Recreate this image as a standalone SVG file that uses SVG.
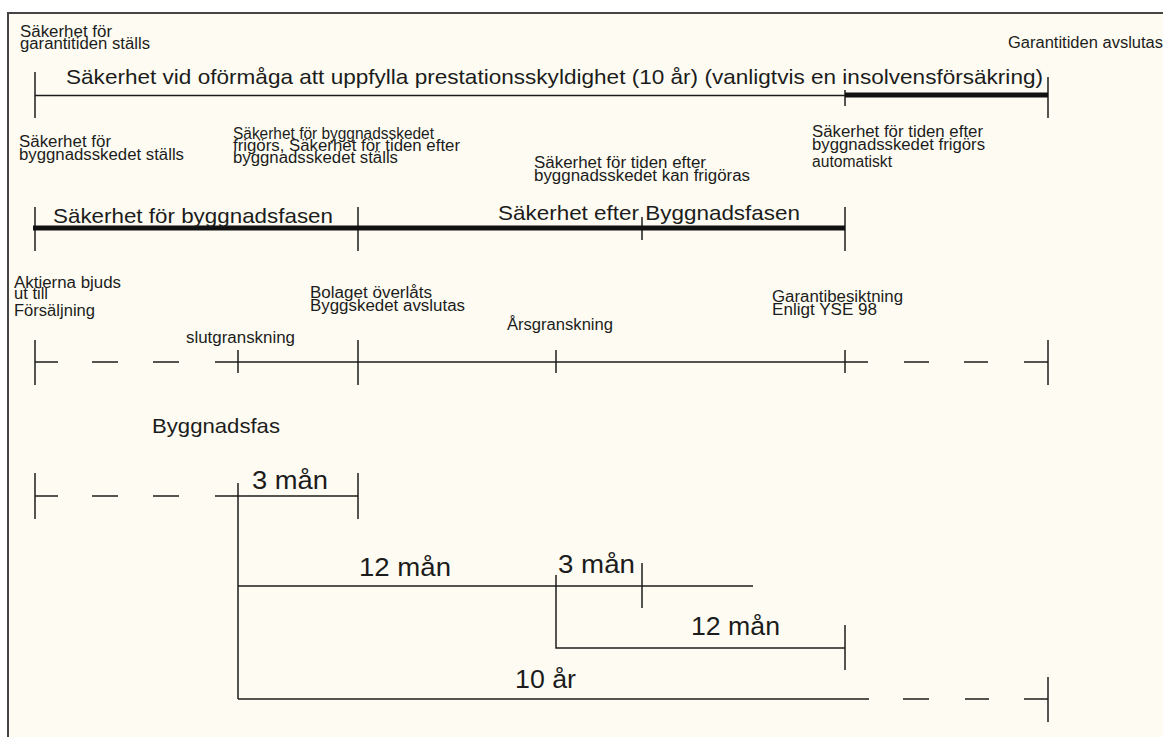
<svg xmlns="http://www.w3.org/2000/svg" width="1163" height="737" viewBox="0 0 1163 737">
<style>
.t{font-family:"Liberation Sans",Arial,sans-serif;fill:#1c1c1c}
.s{font-size:16px}
.m{font-size:21px}
.l{font-size:26px}
.ln{stroke:#1c1c1c;stroke-width:1.5;fill:none}
.th{stroke:#111;stroke-width:5;fill:none}
</style>
<rect x="0" y="0" width="1163" height="737" fill="#ffffff"/>
<rect id="frame" x="8" y="13" width="1160" height="730" fill="#fefcf2" stroke="#444" stroke-width="2"/>

<g id="connectors">
  <path class="ln" d="M35 72V118 M35 95.5H845 M845 90V106 M1048 77V118"/>
  <path class="th" d="M845 95H1048"/>
  <path class="ln" d="M35 207V251 M358 207V251 M845 207V251 M642 217V240"/>
  <path class="th" d="M33 228H845"/>
  <path class="ln" d="M35 340V385 M35 362H58 M92 362H118 M153 362H179 M215 362H868 M904 362H929 M964 362H988 M1024 362H1048 M1048 340V385 M238 350V373 M358 340V385 M556 350V373 M845 350V373"/>
  <path class="ln" d="M35 473V519 M35 496H58 M92 496H118 M153 496H179 M215 496H358 M358 473V519 M238 483V699"/>
  <path class="ln" d="M238 586H753 M642 563V608 M556 575V648H845 M845 625V670"/>
  <path class="ln" d="M238 699H869 M903 699H929 M965 699H989 M1024 699H1048 M1048 677V722"/>
</g>

<g id="n-garanti-start">
  <text class="t s" x="20" y="37" textLength="92" lengthAdjust="spacingAndGlyphs">Säkerhet för</text>
  <text class="t s" x="20" y="49" textLength="130" lengthAdjust="spacingAndGlyphs">garantitiden ställs</text>
</g>
<g id="n-garanti-slut">
  <text class="t s" x="1008" y="48" textLength="155" lengthAdjust="spacingAndGlyphs">Garantitiden avslutas</text>
</g>
<g id="n-insolvens">
  <text class="t m" x="66" y="84" textLength="977" lengthAdjust="spacingAndGlyphs">Säkerhet vid oförmåga att uppfylla prestationsskyldighet (10 år) (vanligtvis en insolvensförsäkring)</text>
</g>

<g id="n-bygg-stalls">
  <text class="t s" x="19" y="147" textLength="92" lengthAdjust="spacingAndGlyphs">Säkerhet för</text>
  <text class="t s" x="19" y="160" textLength="165" lengthAdjust="spacingAndGlyphs">byggnadsskedet ställs</text>
</g>
<g id="n-bygg-frigors">
  <text class="t s" x="233" y="139" textLength="201" lengthAdjust="spacingAndGlyphs">Säkerhet för byggnadsskedet</text>
  <text class="t s" x="233" y="151" textLength="227" lengthAdjust="spacingAndGlyphs">frigörs, Säkerhet för tiden efter</text>
  <text class="t s" x="233" y="163" textLength="165" lengthAdjust="spacingAndGlyphs">byggnadsskedet ställs</text>
</g>
<g id="n-kan-frigoras">
  <text class="t s" x="534" y="168" textLength="172" lengthAdjust="spacingAndGlyphs">Säkerhet för tiden efter</text>
  <text class="t s" x="534" y="181" textLength="216" lengthAdjust="spacingAndGlyphs">byggnadsskedet kan frigöras</text>
</g>
<g id="n-automatiskt">
  <text class="t s" x="812" y="137" textLength="171" lengthAdjust="spacingAndGlyphs">Säkerhet för tiden efter</text>
  <text class="t s" x="812" y="150" textLength="173" lengthAdjust="spacingAndGlyphs">byggnadsskedet frigörs</text>
  <text class="t s" x="812" y="167" textLength="80" lengthAdjust="spacingAndGlyphs">automatiskt</text>
</g>
<g id="n-byggnadsfasen">
  <text class="t m" x="53" y="223" textLength="280" lengthAdjust="spacingAndGlyphs">Säkerhet för byggnadsfasen</text>
</g>
<g id="n-efter-byggnadsfasen">
  <text class="t m" x="498" y="220" textLength="302" lengthAdjust="spacingAndGlyphs">Säkerhet efter Byggnadsfasen</text>
</g>

<g id="n-aktierna">
  <text class="t s" x="14" y="288" textLength="107" lengthAdjust="spacingAndGlyphs">Aktierna bjuds</text>
  <text class="t s" x="14" y="299" textLength="34" lengthAdjust="spacingAndGlyphs">ut till</text>
  <text class="t s" x="14" y="316" textLength="81" lengthAdjust="spacingAndGlyphs">Försäljning</text>
</g>
<g id="n-slutgranskning">
  <text class="t s" x="186" y="343" textLength="109" lengthAdjust="spacingAndGlyphs">slutgranskning</text>
</g>
<g id="n-bolaget">
  <text class="t s" x="310" y="298" textLength="122" lengthAdjust="spacingAndGlyphs">Bolaget överlåts</text>
  <text class="t s" x="310" y="311" textLength="155" lengthAdjust="spacingAndGlyphs">Byggskedet avslutas</text>
</g>
<g id="n-arsgranskning">
  <text class="t s" x="507" y="330" textLength="106" lengthAdjust="spacingAndGlyphs">Årsgranskning</text>
</g>
<g id="n-garantibesiktning">
  <text class="t s" x="772" y="302" textLength="131" lengthAdjust="spacingAndGlyphs">Garantibesiktning</text>
  <text class="t s" x="772" y="315" textLength="105" lengthAdjust="spacingAndGlyphs">Enligt YSE 98</text>
</g>

<g id="n-byggnadsfas">
  <text class="t m" x="152" y="433" textLength="128" lengthAdjust="spacingAndGlyphs">Byggnadsfas</text>
</g>
<g id="n-3man-a">
  <text class="t l" x="252" y="489" textLength="76" lengthAdjust="spacingAndGlyphs">3 mån</text>
</g>
<g id="n-12man-a">
  <text class="t l" x="359" y="576" textLength="92" lengthAdjust="spacingAndGlyphs">12 mån</text>
</g>
<g id="n-3man-b">
  <text class="t l" x="558" y="573" textLength="77" lengthAdjust="spacingAndGlyphs">3 mån</text>
</g>
<g id="n-12man-b">
  <text class="t l" x="691" y="635" textLength="89" lengthAdjust="spacingAndGlyphs">12 mån</text>
</g>
<g id="n-10ar">
  <text class="t l" x="515" y="688" textLength="61" lengthAdjust="spacingAndGlyphs">10 år</text>
</g>
</svg>
